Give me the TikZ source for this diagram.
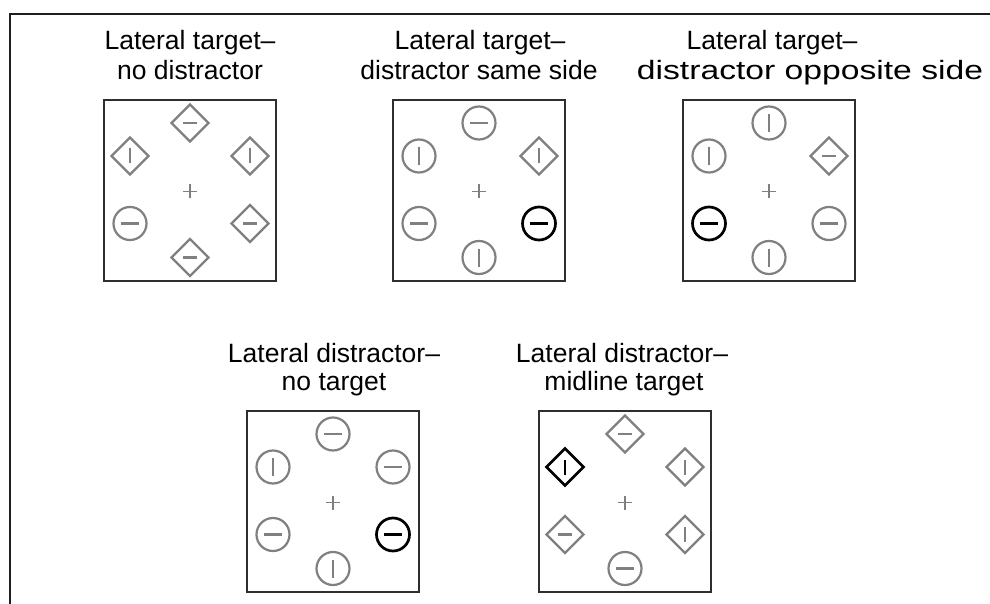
\documentclass[tikz,border=0pt]{standalone}
\usepackage{fontspec}
\setmainfont{Liberation Sans}
\usepackage{graphicx}
\usetikzlibrary{shapes.geometric}
\definecolor{symgray}{HTML}{808080}
\definecolor{boxcol}{HTML}{2E2E2E}
\definecolor{framecol}{HTML}{1E1E1E}
\tikzset{
  panel/.style={draw=boxcol, line width=1.5pt, minimum width=172pt, minimum height=181pt, inner sep=0pt, outer sep=0pt},
  shp/.style={draw=#1, line width=2.2pt, inner sep=0pt, outer sep=0pt},
  cH/.style={shp=#1, circle, minimum size=33pt,
    path picture={\draw[#1,line width=2.2pt] ([xshift=-9pt]path picture bounding box.center) -- ([xshift=9pt]path picture bounding box.center);}},
  cH/.default=symgray,
  cV/.style={shp=#1, circle, minimum size=33pt,
    path picture={\draw[#1,line width=2.2pt] ([yshift=-9pt]path picture bounding box.center) -- ([yshift=9pt]path picture bounding box.center);}},
  cV/.default=symgray,
  dH/.style={shp=#1, diamond, minimum width=37pt, minimum height=37pt,
    path picture={\draw[#1,line width=2.2pt] ([xshift=-7pt]path picture bounding box.center) -- ([xshift=7pt]path picture bounding box.center);}},
  dH/.default=symgray,
  dV/.style={shp=#1, diamond, minimum width=37pt, minimum height=37pt,
    path picture={\draw[#1,line width=2.2pt] ([yshift=-7.5pt]path picture bounding box.center) -- ([yshift=7.5pt]path picture bounding box.center);}},
  dV/.default=symgray,
  tg/.style={line width=2.7pt},
  plus/.style={minimum size=16pt, inner sep=0pt,
    path picture={\draw[symgray,line width=1.8pt]
      ([xshift=-7pt]path picture bounding box.center) -- ([xshift=7pt]path picture bounding box.center)
      ([yshift=-7pt]path picture bounding box.center) -- ([yshift=7pt]path picture bounding box.center);}},
  title/.style={anchor=base, inner sep=0pt, font=\fontsize{26.5pt}{30pt}\selectfont, text=black}
}
\newcommand\mkpanel[9]{%
  \node[panel] (#1) at (#2,#3) {};
  \node[#4] (#1-t) at (#2,#3-67.5) {};
  \node[#5] (#1-ul) at (#2-60,#3-34.5) {};
  \node[#6] (#1-ur) at (#2+60,#3-34.5) {};
  \node[plus] (#1-c) at (#2,#3+1) {};
  \node[#7] (#1-ll) at (#2-60,#3+33) {};
  \node[#8] (#1-lr) at (#2+60,#3+33) {};
  \node[#9] (#1-b) at (#2,#3+67) {};
}
\begin{document}
\begin{tikzpicture}[x=1pt,y=-1pt]
  \fill[white] (0,0) rectangle (990,604);
  \useasboundingbox (0,0) rectangle (990,604);
  % outer frame (top and left edges)
  \coordinate (frTR) at (990,14);
  \coordinate (frTL) at (10,14);
  \coordinate (frBL) at (10,604);
  \draw[framecol, line width=2.7pt] (frTR) -- (frTL) -- (frBL);

  % titles
  \node[title] (t1a) at (190,50) {Lateral target–};
  \node[title] (t1b) at (190,80) {no distractor};
  \node[title] (t2a) at (480,50) {Lateral target–};
  \node[title] (t2b) at (479,80) {distractor same side};
  \node[title] (t3a) at (772,50) {Lateral target–};
  \node[title] (t3b) at (810,80) {\scalebox{1.27}[1]{distractor opposite side}};
  \node[title] (t4a) at (334,362) {Lateral distractor–};
  \node[title] (t4b) at (334,390) {no target};
  \node[title] (t5a) at (622,362) {Lateral distractor–};
  \node[title] (t5b) at (624,390) {midline target};

  % panels
  \mkpanel{p1}{190}{190.5}{dH}{dV}{dV}{cH}{dH}{dH}
  \mkpanel{p2}{479}{190.5}{cH}{cV}{dV}{cH}{cH=black,tg}{cV}
  \mkpanel{p3}{769}{190.5}{cV}{cV}{dH}{cH=black,tg}{cH}{cV}
  \mkpanel{p4}{333}{501.5}{cH}{cV}{cH}{cH}{cH=black,tg}{cV}
  \mkpanel{p5}{625}{501.5}{dH}{dV=black,tg}{dV}{dH}{dV}{cH}
\end{tikzpicture}
\end{document}
